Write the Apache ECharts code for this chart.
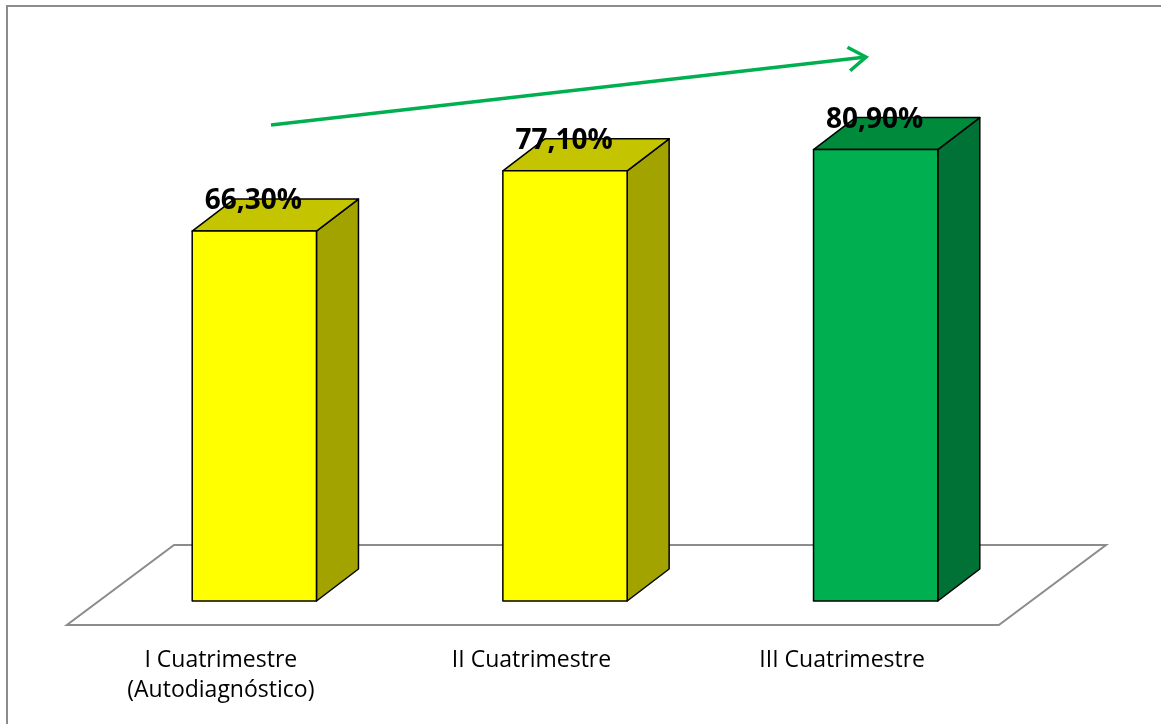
<!DOCTYPE html>
<html><head><meta charset="utf-8">
<script src="https://cdn.jsdelivr.net/npm/echarts@6/dist/echarts.min.js"></script>
<style>html,body{margin:0;padding:0;background:#fff}#c{width:1161px;height:724px}</style>
</head><body><div id="c"></div>
<script>
const categories = ['I Cuatrimestre\n(Autodiagnóstico)', 'II Cuatrimestre', 'III Cuatrimestre'];
const values = [66.3, 77.1, 80.9];
const valueLabels = ['66,30%', '77,10%', '80,90%'];
const frontColors = ['#ffff00', '#ffff00', '#00b050'];
const topColors = ['#c4c400', '#c4c400', '#008a3c'];
const sideColors = ['#a3a300', '#a3a300', '#007236'];

const DX = 42, DY = -32; // bar depth offset
const chart = echarts.init(document.getElementById('c'), null, {renderer: 'canvas'});

function floorItem(params, api) {
  const cs = params.coordSys;
  const by = cs.y + cs.height; // baseline (front of bars)
  const k = 1.34;
  const back = by - 56, front = by + 24;
  const L = cs.x, R = cs.x + cs.width;
  const pts = [
    [L + (by - back) * k, back], [R + (by - back) * k, back],
    [R - (front - by) * k, front], [L - (front - by) * k, front]
  ];
  return {type: 'polygon', shape: {points: pts}, style: {fill: '#ffffff', stroke: '#8c8c8c', lineWidth: 2}, z2: 0};
}

function barItem(params, api) {
  const i = api.value(0);
  const v = api.value(1);
  const top = api.coord([i, v]);
  const base = api.coord([i, 0]);
  const w = api.size([1, 0])[0] * 0.4;
  const x0 = top[0] - w / 2, x1 = top[0] + w / 2;
  const yt = top[1], yb = base[1];
  const stroke = {stroke: '#000', lineWidth: 1.5, lineJoin: 'round'};
  return {
    type: 'group',
    children: [
      {type: 'polygon', shape: {points: [[x1, yt], [x1 + DX, yt + DY], [x1 + DX, yb + DY], [x1, yb]]},
        style: Object.assign({fill: sideColors[i]}, stroke)},
      {type: 'polygon', shape: {points: [[x0, yt], [x0 + DX, yt + DY], [x1 + DX, yt + DY], [x1, yt]]},
        style: Object.assign({fill: topColors[i]}, stroke)},
      {type: 'rect', shape: {x: x0, y: yt, width: w, height: yb - yt},
        style: Object.assign({fill: frontColors[i]}, stroke)},
      {type: 'text', x: top[0] - 1, y: yt + DY + 2,
        style: {text: valueLabels[i], fill: '#000', font: 'bold 28px "Open Sans"', align: 'center', verticalAlign: 'middle'}}
    ]
  };
}

// arrow annotation
const a0 = [271, 125], a1 = [866, 57];
const ux = a1[0] - a0[0], uy = a1[1] - a0[1], ul = Math.hypot(ux, uy);
const dx = ux / ul, dy = uy / ul;
function wing(ang) {
  const c = Math.cos(ang), s = Math.sin(ang);
  return [a1[0] - 21 * (dx * c - dy * s), a1[1] - 21 * (dx * s + dy * c)];
}

chart.setOption({
  animation: false,
  backgroundColor: '#ffffff',
  grid: {left: 99, right: 130, top: 43, bottom: 123, containLabel: false},
  xAxis: {
    type: 'category', data: categories,
    axisLine: {show: false}, axisTick: {show: false}, splitLine: {show: false},
    axisLabel: {interval: 0, margin: 44, fontFamily: 'Open Sans', fontSize: 23, color: '#000', lineHeight: 30,
      align: 'center', padding: [0, 67, 0, 0]}
  },
  yAxis: {type: 'value', min: 0, max: 100, show: false},
  graphic: [
    {type: 'rect', shape: {x: 7, y: 6, width: 1300, height: 900}, style: {fill: 'none', stroke: '#8c8c8c', lineWidth: 2}, z: -10, silent: true},
    {type: 'polyline', shape: {points: [a0, a1]}, style: {stroke: '#00b050', lineWidth: 3.5, fill: 'none'}, z: 10},
    {type: 'polyline', shape: {points: [wing(0.6), a1, wing(-0.6)]}, style: {stroke: '#00b050', lineWidth: 3.5, fill: 'none', lineJoin: 'miter'}, z: 10}
  ],
  series: [
    {type: 'custom', renderItem: floorItem, data: [[0]], z: 1, silent: true},
    {type: 'custom', renderItem: barItem, data: values.map((v, i) => [i, v]), z: 2, encode: {x: 0, y: 1}}
  ]
});
</script></body></html>
